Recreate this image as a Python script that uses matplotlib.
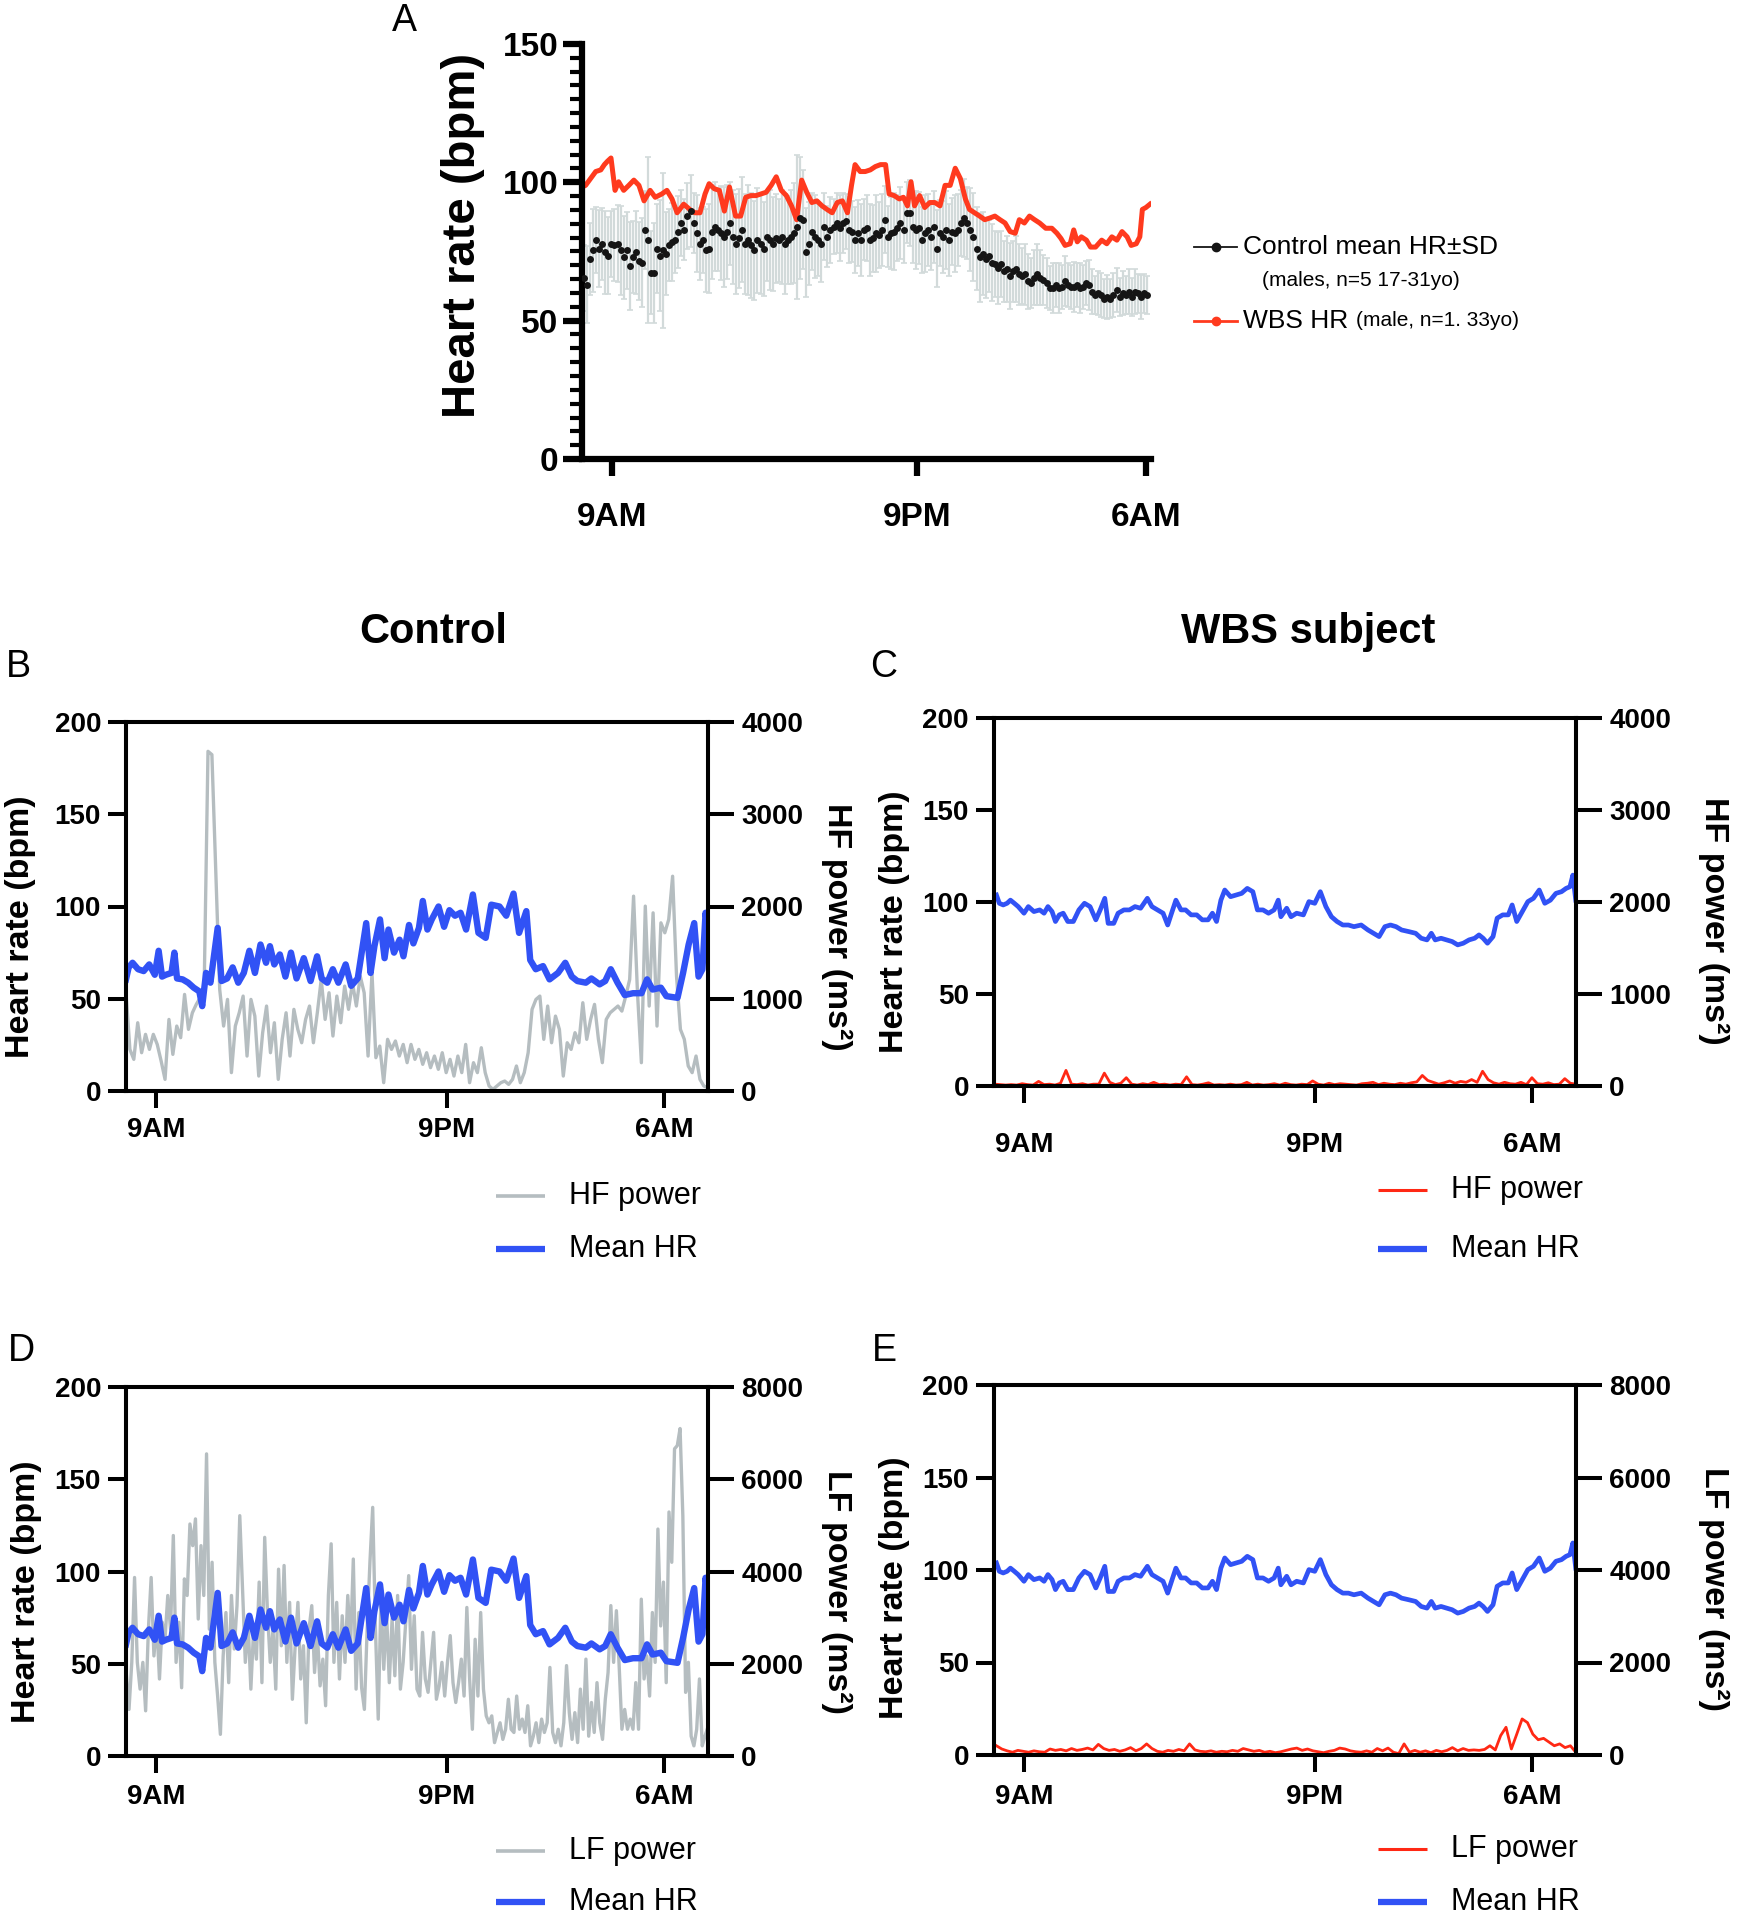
import numpy as np
import matplotlib
matplotlib.use('Agg')
import matplotlib.pyplot as plt
from matplotlib.lines import Line2D
from matplotlib.ticker import MultipleLocator

plt.rcParams['font.family'] = ['Liberation Sans', 'DejaVu Sans']

# ---------------- datos (horas desde medianoche del dia 1) ----------------
time_ticks = [9, 21, 30]
time_labels = ['9AM', '9PM', '6AM']

# Panel A: media de control (puntos) y su SD
ctrl_mean = [65.5, 63.0, 72.3, 75.4, 79.1, 76.0, 77.8, 74.7, 73.5, 77.8,
             77.2, 77.8, 75.4, 72.9, 75.4, 69.8, 72.9, 74.7, 71.6, 71.0,
             82.8, 79.1, 67.3, 67.3, 76.0, 73.5, 75.4, 74.1, 77.2, 78.5,
             79.1, 82.2, 85.3, 82.8, 87.8, 89.6, 85.3, 81.6, 77.8, 79.1,
             75.4, 76.0, 82.2, 84.0, 82.8, 81.6, 80.3, 82.2, 85.3, 80.3,
             77.8, 79.7, 82.8, 77.8, 79.1, 77.2, 75.4, 79.1, 77.8, 76.0,
             80.3, 79.1, 77.8, 79.7, 79.1, 80.3, 77.8, 79.1, 80.3, 81.6,
             84.0, 87.1, 86.5, 74.7, 77.8, 82.2, 80.3, 79.1, 77.8, 84.0,
             80.3, 82.8, 84.0, 85.3, 83.4, 85.3, 85.9, 82.8, 82.2, 79.1,
             81.6, 79.1, 82.8, 83.4, 79.1, 79.7, 81.6, 80.9, 82.8, 86.5,
             80.3, 81.6, 82.2, 83.4, 85.3, 82.8, 89.0, 89.0, 84.0, 82.8,
             83.4, 79.1, 81.6, 82.8, 80.3, 84.0, 76.0, 81.6, 80.3, 82.8,
             79.1, 82.2, 81.6, 82.8, 85.3, 87.1, 85.3, 82.8, 80.3, 76.0,
             72.9, 74.1, 72.3, 73.5, 71.0, 70.4, 69.1, 70.4, 67.9, 68.6,
             66.1, 67.9, 68.6, 66.7, 66.1, 66.7, 64.2, 63.6, 65.5, 66.7,
             65.5, 64.8, 63.6, 61.7, 61.7, 63.0, 61.7, 62.3, 64.2, 63.0,
             62.3, 62.3, 63.0, 61.7, 62.3, 63.6, 63.0, 60.5, 59.3, 59.9,
             59.3, 58.0, 58.6, 58.0, 59.3, 61.1, 58.6, 59.9, 59.3, 60.5,
             58.6, 60.5, 59.9, 58.6, 59.9, 59.3]
ctrl_sd = [12, 14, 13, 15, 12, 14, 13, 15, 14, 12,
           13, 14, 16, 15, 14, 16, 13, 15, 14, 16,
           14, 30, 15, 18, 16, 20, 28, 15, 13, 14,
           12, 13, 12, 11, 12, 13, 11, 14, 13, 12,
           15, 16, 17, 16, 15, 17, 18, 17, 15, 17,
           18, 18, 19, 18, 20, 19, 18, 19, 18, 17,
           16, 18, 17, 16, 15, 17, 18, 16, 17, 18,
           26, 22, 18, 16, 15, 14, 15, 13, 14, 12,
           11, 12, 10, 11, 12, 11, 10, 12, 11, 12,
           12, 13, 11, 12, 13, 12, 14, 12, 13, 12,
           11, 13, 14, 12, 13, 12, 11, 12, 13, 14,
           13, 12, 14, 13, 12, 13, 14, 12, 13, 14,
           13, 12, 14, 13, 12, 14, 13, 15, 16, 15,
           16, 15, 14, 13, 14, 12, 13, 12, 11, 12,
           12, 11, 12, 11, 10, 11, 10, 9, 10, 11,
           10, 9, 9, 8, 9, 8, 9, 8, 9, 8,
           8, 9, 8, 9, 8, 8, 9, 8, 7, 8,
           8, 7, 8, 7, 8, 8, 7, 8, 7, 8,
           7, 8, 7, 8, 7, 7]
ctrl_t = np.linspace(7.90, 30.04, len(ctrl_mean))

# Panel A: FC del sujeto WBS
a_wbs_t = [7.82, 7.96, 8.16, 8.36, 8.56, 8.70, 8.82, 8.96, 9.12, 9.26,
           9.46, 9.66, 9.86, 10.06, 10.26, 10.50, 10.70, 10.96, 11.16, 11.36,
           11.56, 11.82, 12.06, 12.26, 12.46, 12.66, 12.82, 13.02, 13.22, 13.42,
           13.62, 13.86, 14.06, 14.26, 14.46, 14.66, 14.86, 15.06, 15.26, 15.46,
           15.66, 15.86, 16.06, 16.26, 16.46, 16.66, 16.86, 17.06, 17.26, 17.46,
           17.66, 17.86, 18.06, 18.26, 18.42, 18.56, 18.76, 18.96, 19.16, 19.36,
           19.56, 19.76, 19.90, 20.10, 20.30, 20.46, 20.62, 20.76, 20.90, 21.10,
           21.30, 21.50, 21.70, 21.90, 22.10, 22.30, 22.50, 22.70, 22.90, 23.06,
           23.26, 23.46, 23.66, 23.86, 24.06, 24.26, 24.46, 24.66, 24.86, 25.02,
           25.22, 25.42, 25.62, 25.82, 26.06, 26.30, 26.50, 26.66, 26.82, 27.02,
           27.16, 27.30, 27.46, 27.66, 27.82, 28.02, 28.26, 28.46, 28.66, 28.86,
           29.06, 29.26, 29.42, 29.62, 29.76, 29.86, 30.00, 30.16]
a_wbs_hr = [98.3, 98.9, 101.4, 103.9, 104.5, 106.4, 107.6, 108.8, 97.1, 100.2,
            97.1, 98.9, 100.8, 98.9, 93.3, 97.1, 94.6, 95.8, 97.1, 94.0,
            89.0, 92.1, 90.2, 89.0, 89.0, 95.8, 99.5, 97.7, 97.1, 89.6,
            98.3, 87.8, 87.8, 94.6, 95.2, 95.2, 95.8, 96.4, 98.9, 102.0,
            97.1, 95.2, 91.5, 86.5, 100.8, 96.4, 92.7, 93.3, 91.5, 90.2,
            89.0, 92.7, 93.3, 89.0, 98.9, 106.4, 103.9, 103.9, 104.5, 105.7,
            106.4, 106.4, 95.8, 95.2, 94.0, 94.6, 91.5, 100.2, 91.5, 95.2,
            90.9, 92.7, 92.7, 91.5, 98.9, 98.9, 105.1, 101.4, 94.0, 90.2,
            89.0, 87.8, 86.5, 87.1, 87.8, 86.5, 85.3, 82.2, 81.6, 86.5,
            85.3, 87.8, 86.5, 85.3, 83.4, 83.4, 81.6, 79.7, 77.2, 77.8,
            82.8, 78.5, 80.3, 79.1, 76.6, 76.6, 79.1, 77.8, 80.3, 79.1,
            82.2, 80.3, 77.2, 77.8, 80.3, 90.2, 90.9, 92.1]

# Paneles B y D: FC media del control
ctrl_hr_t = [7.74, 7.85, 8.01, 8.24, 8.47, 8.70, 8.93, 9.09, 9.23, 9.39,
             9.62, 9.74, 9.85, 10.08, 10.31, 10.54, 10.77, 10.89, 11.05, 11.23,
             11.53, 11.69, 11.92, 12.15, 12.38, 12.61, 12.84, 13.07, 13.30, 13.53,
             13.69, 13.87, 14.10, 14.33, 14.56, 14.79, 15.09, 15.37, 15.64, 15.83,
             16.06, 16.29, 16.52, 16.82, 17.05, 17.32, 17.67, 17.85, 18.01, 18.24,
             18.43, 18.59, 18.82, 19.05, 19.21, 19.44, 19.62, 19.85, 20.01, 20.20,
             20.38, 20.66, 20.89, 21.11, 21.34, 21.57, 21.80, 22.08, 22.31, 22.61,
             22.84, 23.18, 23.46, 23.76, 23.99, 24.29, 24.45, 24.68, 24.98, 25.25,
             25.60, 25.90, 26.17, 26.40, 26.75, 26.98, 27.32, 27.55, 27.78, 28.06,
             28.36, 28.70, 29.05, 29.28, 29.51, 29.85, 30.08, 30.54, 30.77, 31.00,
             31.23, 31.41, 31.57, 31.70, 31.79]
ctrl_hr = [60.5, 67.0, 69.5, 66.0, 65.0, 68.6, 63.0, 76.0, 62.0, 63.0,
           64.0, 75.0, 61.0, 60.5, 58.7, 56.0, 54.0, 46.0, 64.0, 58.7,
           88.4, 59.6, 61.0, 67.0, 58.7, 64.0, 76.0, 64.0, 79.4, 69.5,
           78.5, 68.6, 74.0, 62.0, 75.0, 61.0, 72.0, 59.6, 73.0, 61.0,
           58.7, 66.0, 58.7, 68.6, 57.0, 61.0, 91.0, 64.0, 78.5, 93.0,
           72.0, 87.5, 75.0, 82.0, 73.0, 90.0, 80.0, 88.4, 103.0, 87.5,
           93.0, 100.0, 89.0, 98.0, 95.0, 96.6, 87.5, 106.5, 85.7, 83.0,
           101.0, 100.0, 95.0, 107.0, 85.7, 97.5, 71.0, 66.0, 67.7, 60.5,
           64.0, 69.5, 62.0, 59.6, 58.7, 61.0, 57.8, 59.6, 66.0, 58.7,
           52.0, 53.0, 53.0, 60.5, 55.0, 56.0, 51.4, 50.5, 64.0, 79.4,
           91.0, 62.0, 66.0, 96.6, 87.5]

# Panel B: potencia HF del control (ms2)
ctrl_hf = [1065, 451, 343, 740, 415, 614, 451, 614, 505, 325,
           126, 776, 397, 704, 578, 1047, 668, 848, 939, 1011,
           1065, 3682, 3646, 2365, 1101, 704, 993, 199, 704, 848,
           1029, 379, 993, 812, 162, 632, 921, 415, 740, 126,
           560, 848, 379, 885, 668, 523, 776, 921, 523, 848,
           1209, 776, 1065, 596, 1029, 740, 1137, 885, 1173, 921,
           1245, 1065, 379, 1282, 361, 487, 90, 560, 451, 542,
           379, 505, 307, 505, 343, 451, 289, 415, 253, 379,
           235, 415, 199, 343, 162, 379, 199, 505, 90, 307,
           199, 469, 199, 54, 18, 54, 90, 108, 72, 126,
           271, 90, 199, 415, 885, 993, 1029, 560, 921, 523,
           812, 668, 162, 523, 451, 632, 523, 957, 560, 776,
           939, 560, 307, 776, 848, 885, 921, 866, 1029, 1209,
           2112, 1065, 307, 2004, 921, 1931, 704, 1823, 1715, 1859,
           2328, 1245, 668, 560, 271, 199, 379, 126, 54, 36]
ctrl_hf_t = np.linspace(7.74, 31.79, len(ctrl_hf))

# Panel D: potencia LF del control (ms2)
ctrl_lf = [1810, 1010, 2030, 3870, 2030, 1450, 2030, 980, 2750, 3870,
           2170, 2900, 1670, 2900, 2530, 3480, 2750, 4780, 2030, 2900,
           1480, 3840, 3480, 5030, 4560, 5140, 2970, 4560, 3480, 6550,
           2750, 4200, 2030, 1300, 470, 2170, 3110, 1590, 3480, 2320,
           3260, 5210, 3620, 2030, 2900, 1450, 2750, 2100, 3770, 1590,
           4740, 3110, 2030, 2750, 1450, 4050, 2390, 4130, 2030, 3330,
           1230, 2390, 3330, 1670, 2390, 720, 2750, 3260, 1810, 2680,
           1520, 2100, 1090, 3480, 4600, 2030, 3330, 1670, 3040, 2030,
           3480, 2390, 4270, 1450, 3110, 1480, 1010, 2750, 4200, 5390,
           2750, 800, 3480, 1880, 3110, 1590, 2970, 1740, 3480, 1450,
           2030, 2970, 3910, 1880, 3040, 1450, 1300, 2680, 1670, 1380,
           2030, 2680, 1230, 1520, 2030, 1300, 2030, 2610, 1590, 1160,
           1590, 2100, 1300, 3220, 1670, 580, 2530, 1300, 3110, 1450,
           870, 720, 870, 290, 510, 720, 360, 580, 1230, 580,
           510, 1300, 580, 800, 510, 1090, 220, 430, 720, 290,
           800, 510, 720, 1920, 510, 290, 580, 220, 720, 1960,
           940, 360, 940, 290, 1450, 580, 2100, 430, 1160, 510,
           1590, 720, 360, 1230, 1810, 3260, 2030, 3150, 1960, 580,
           1010, 580, 800, 580, 1590, 580, 3400, 1670, 2170, 1300,
           3110, 2030, 4920, 2820, 3770, 1590, 5290, 4200, 6660, 6730,
           7100, 5210, 1380, 2030, 430, 220, 580, 1670, 220, 430,
           620]
ctrl_lf_t = np.linspace(7.75, 31.79, len(ctrl_lf))

# Paneles C y E: FC media del sujeto WBS
wbs_hr_t = [7.84, 7.96, 8.12, 8.28, 8.42, 8.58, 8.74, 8.98, 9.16, 9.39,
            9.63, 9.81, 9.97, 10.14, 10.28, 10.44, 10.60, 10.79, 11.02, 11.25,
            11.48, 11.71, 11.95, 12.13, 12.32, 12.46, 12.69, 12.87, 13.11, 13.34,
            13.57, 13.80, 14.08, 14.27, 14.50, 14.73, 14.92, 15.08, 15.26, 15.47,
            15.66, 15.89, 16.12, 16.35, 16.59, 16.77, 16.94, 17.12, 17.28, 17.52,
            17.75, 17.98, 18.21, 18.44, 18.63, 18.86, 19.09, 19.32, 19.49, 19.60,
            19.84, 20.02, 20.25, 20.53, 20.76, 21.00, 21.23, 21.46, 21.69, 21.92,
            22.16, 22.39, 22.62, 22.92, 23.20, 23.43, 23.66, 23.90, 24.13, 24.36,
            24.59, 24.89, 25.17, 25.40, 25.64, 25.82, 25.98, 26.22, 26.45, 26.68,
            26.91, 27.14, 27.38, 27.61, 27.79, 27.96, 28.14, 28.37, 28.54, 28.77,
            29.00, 29.16, 29.35, 29.58, 29.81, 30.04, 30.28, 30.51, 30.74, 30.97,
            31.20, 31.39, 31.55, 31.67, 31.79]
wbs_hr = [103.8, 99.3, 98.4, 99.3, 101.0, 99.3, 97.5, 93.9, 97.5, 94.8,
          95.7, 93.9, 97.5, 94.8, 89.4, 93.0, 93.9, 89.4, 89.4, 95.7,
          99.3, 97.5, 90.3, 95.7, 102.0, 88.4, 88.4, 93.9, 95.7, 95.7,
          97.5, 96.6, 102.0, 97.5, 95.7, 93.9, 87.5, 93.9, 101.0, 95.7,
          95.7, 93.0, 93.0, 90.3, 90.3, 93.9, 89.4, 101.0, 106.5, 102.9,
          103.8, 104.7, 107.4, 105.6, 95.7, 95.7, 93.9, 95.7, 101.0, 92.0,
          96.6, 92.0, 93.9, 93.0, 100.2, 99.3, 105.6, 97.5, 92.0, 89.4,
          87.5, 87.5, 86.6, 87.5, 84.8, 83.0, 81.2, 86.6, 87.5, 86.6,
          84.8, 83.9, 83.0, 80.3, 79.4, 83.0, 79.4, 80.3, 79.4, 78.5,
          76.7, 77.6, 79.4, 80.3, 82.1, 80.3, 77.6, 81.2, 91.2, 93.0,
          93.0, 98.4, 89.4, 94.8, 100.2, 102.0, 106.5, 99.3, 101.0, 104.7,
          105.6, 107.4, 108.3, 114.6, 101.0]

# Panel C: potencia HF del sujeto WBS (ms2)
wbs_hf = [20, 15, 10, 15, 10, 25, 15, 10, 50, 15,
          20, 10, 30, 170, 20, 15, 25, 10, 20, 20,
          140, 40, 15, 30, 90, 20, 10, 25, 15, 40,
          15, 20, 10, 20, 15, 100, 15, 10, 20, 35,
          10, 15, 10, 20, 10, 15, 40, 10, 20, 10,
          15, 25, 10, 30, 15, 10, 20, 15, 55, 20,
          10, 30, 15, 25, 20, 15, 10, 25, 30, 40,
          15, 30, 20, 15, 30, 20, 35, 45, 115, 60,
          40, 20, 35, 55, 30, 50, 40, 70, 40, 160,
          70, 35, 20, 40, 25, 20, 40, 15, 90, 25,
          20, 35, 15, 20, 80, 30, 20]
wbs_hf_t = np.linspace(7.77, 31.79, len(wbs_hf))

# Panel E: potencia LF del sujeto WBS (ms2)
wbs_lf = [200, 130, 90, 60, 100, 80, 60, 90, 70, 60,
          130, 100, 120, 90, 140, 100, 120, 150, 110, 230,
          140, 100, 120, 80, 110, 160, 90, 140, 240, 140,
          80, 60, 100, 80, 120, 90, 240, 110, 80, 70,
          90, 60, 80, 70, 100, 80, 140, 110, 80, 100,
          60, 80, 50, 70, 100, 130, 150, 100, 130, 90,
          70, 50, 80, 100, 150, 130, 90, 70, 60, 90,
          60, 140, 90, 150, 60, 30, 240, 60, 100, 60,
          90, 50, 100, 70, 100, 160, 90, 140, 100, 110,
          100, 120, 200, 110, 420, 600, 130, 450, 780, 700,
          450, 330, 360, 280, 200, 240, 160, 200, 60]
wbs_lf_t = np.linspace(7.84, 31.79, len(wbs_lf))

# ---------------- figura ----------------
W, H = 1740, 1920
BLUE = '#3152F5'
GRAY = '#B5BDC0'
RED = '#FF2814'
RED_A = '#FF3A1E'
ERR = '#D2DADA'


def fx(x):
    return x / W


def fy(y):
    return 1 - y / H


fig = plt.figure(figsize=(W / 100, H / 100), dpi=100)

# ===== Panel A =====
axA = fig.add_axes([fx(582), fy(459), (1151 - 582) / W, (459 - 44) / H])
axA.errorbar(ctrl_t, ctrl_mean, yerr=ctrl_sd, fmt='none', ecolor=ERR,
             elinewidth=1.6, capsize=2.5, capthick=1.2, zorder=1, clip_on=False)
axA.plot(a_wbs_t, a_wbs_hr, color=RED_A, lw=3.6, zorder=2)
axA.plot(ctrl_t, ctrl_mean, 'o', color='#151515', ms=5, mew=0, zorder=3)
axA.set_xlim(7.82, 30.2)
axA.set_ylim(0, 150)
for s in ['top', 'right']:
    axA.spines[s].set_visible(False)
for s in ['left', 'bottom']:
    axA.spines[s].set_linewidth(4.5)
axA.yaxis.set_minor_locator(MultipleLocator(5))
axA.tick_params(axis='y', which='major', length=14, width=4.5, pad=3)
axA.tick_params(axis='y', which='minor', length=9, width=3)
axA.tick_params(axis='x', which='major', length=12, width=4.5, pad=19)
tick_kw_a = dict(fontweight='bold', fontsize=24)
axA.set_xticks(time_ticks, time_labels, **tick_kw_a)
axA.set_yticks([0, 50, 100, 150], ['0', '50', '100', '150'], **tick_kw_a)
fig.text(fx(463), fy(192 * 1.2245), 'Heart rate (bpm)', rotation=90, ha='center', va='center',
         fontsize=34, fontweight='bold')
fig.text(fx(404), fy(21), 'A', ha='center', va='center', fontsize=27)

# leyenda del panel A
fig.add_artist(Line2D([fx(1194), fx(1237)], [fy(247)] * 2, color='#151515', lw=1.3))
fig.add_artist(Line2D([fx(1216)], [fy(247)], color='#151515', marker='o', ms=6, lw=0))
fig.text(fx(1243), fy(247), 'Control mean HR±SD', ha='left', va='center', fontsize=19)
fig.text(fx(1262), fy(280), '(males, n=5 17-31yo)', ha='left', va='center', fontsize=15)
fig.add_artist(Line2D([fx(1194), fx(1237)], [fy(321)] * 2, color=RED_A, lw=2))
fig.add_artist(Line2D([fx(1216)], [fy(321)], color=RED_A, marker='o', ms=6, lw=0))
t_wbs = fig.text(fx(1243), fy(321), 'WBS HR ', ha='left', va='center', fontsize=19)
fig.canvas.draw()
bb = t_wbs.get_window_extent()
fig.text(bb.x1 / W, fy(321), '(male, n=1. 33yo)', ha='left', va='center', fontsize=15)


# ===== Paneles B-E =====
def hrv_panel(left, top, right, bottom, hr_t, hr, pw_t, pw, pw_color, pw_lw, hr_lw,
              pw_max, pw_step, xpad):
    ax = fig.add_axes([fx(left), fy(bottom), (right - left) / W, (bottom - top) / H])
    ax2 = ax.twinx()
    ax2.plot(pw_t, pw, color=pw_color, lw=pw_lw)
    ax.plot(hr_t, hr, color=BLUE, lw=hr_lw)
    ax.set_zorder(ax2.get_zorder() + 1)
    ax.patch.set_visible(False)
    ax.set_xlim(7.74, 31.8)
    ax.set_ylim(0, 200)
    ax2.set_ylim(0, pw_max)
    for a in (ax, ax2):
        for s in a.spines.values():
            s.set_linewidth(2.9)
    kw = dict(fontweight='bold', fontsize=20)
    ax.set_xticks(time_ticks, time_labels, **kw)
    ax.set_yticks([0, 50, 100, 150, 200], ['0', '50', '100', '150', '200'], **kw)
    pticks = list(range(0, pw_max + 1, pw_step))
    ax2.set_yticks(pticks, [str(v) for v in pticks], **kw)
    ax.tick_params(axis='x', length=12, width=2.9, pad=xpad)
    ax.tick_params(axis='y', length=13, width=2.9, pad=5)
    ax2.tick_params(axis='y', length=19, width=2.9, pad=5)
    return ax


hrv_panel(126, 722, 708, 1091, ctrl_hr_t, ctrl_hr, ctrl_hf_t, ctrl_hf, GRAY, 2.4, 4.6,
          4000, 1000, 7)
hrv_panel(994, 718, 1576, 1086, wbs_hr_t, wbs_hr, wbs_hf_t, wbs_hf, RED, 2.0, 3.4,
          4000, 1000, 21)
hrv_panel(126, 1387, 708, 1756, ctrl_hr_t, ctrl_hr, ctrl_lf_t, ctrl_lf, GRAY, 2.4, 4.6,
          8000, 2000, 8)
hrv_panel(994, 1385, 1576, 1755, wbs_hr_t, wbs_hr, wbs_lf_t, wbs_lf, RED, 2.0, 3.4,
          8000, 2000, 9)

# textos de los paneles
fig.text(fx(433), fy(632), 'Control', ha='center', va='center', fontsize=30, fontweight='bold')
fig.text(fx(1308), fy(632), 'WBS subject', ha='center', va='center', fontsize=30, fontweight='bold')
for lab, x, y in [('B', 18, 667), ('C', 884, 667), ('D', 21, 1351), ('E', 884, 1351)]:
    fig.text(fx(x), fy(y), lab, ha='center', va='center', fontsize=27)

for x, y in [(21, 927), (895, 922), (27, 1592), (895, 1588)]:
    fig.text(fx(x), fy(y), 'Heart rate (bpm)', rotation=90, ha='center', va='center',
             fontsize=24.5, fontweight='bold')
for x, y, txt in [(837, 927, 'HF power (ms²)'), (1714, 921, 'HF power (ms²)'),
                  (837, 1592, 'LF power (ms²)'), (1714, 1589, 'LF power (ms²)')]:
    fig.text(fx(x), fy(y), txt, rotation=270, ha='center', va='center',
             fontsize=24.5, fontweight='bold')

# leyendas inferiores
for x0, x1, y, color, lw, txt in [
        (496, 545, 1196, GRAY, 2.6, 'HF power'), (496, 545, 1249, BLUE, 4.5, 'Mean HR'),
        (1378, 1427, 1190, RED, 2.2, 'HF power'), (1378, 1427, 1249, BLUE, 4.5, 'Mean HR'),
        (496, 545, 1851, GRAY, 2.6, 'LF power'), (496, 545, 1902, BLUE, 4.5, 'Mean HR'),
        (1378, 1427, 1849, RED, 2.2, 'LF power'), (1378, 1427, 1902, BLUE, 4.5, 'Mean HR')]:
    fig.add_artist(Line2D([fx(x0), fx(x1)], [fy(y)] * 2, color=color, lw=lw,
                          solid_capstyle='butt'))
    fig.text(fx(x1 + 24), fy(y), txt, ha='left', va='center', fontsize=22)

fig.savefig('out.png', dpi=100)
plt.close(fig)
